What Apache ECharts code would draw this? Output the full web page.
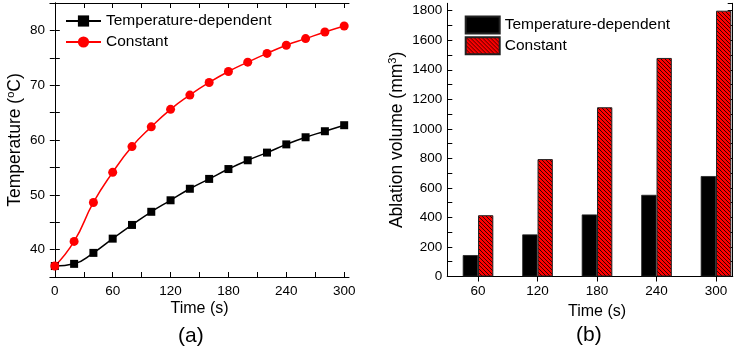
<!DOCTYPE html>
<html>
<head>
<meta charset="utf-8">
<script src="https://cdn.jsdelivr.net/npm/echarts@6/dist/echarts.min.js"></script>
<style>
html,body{margin:0;padding:0;background:#fff;}
#a{position:absolute;left:0;top:0;width:374px;height:350px;}
#b{position:absolute;left:374px;top:0;width:374px;height:350px;}
</style>
</head>
<body>
<div id="a"></div>
<div id="b"></div>
<script>
// ---- data (a) ----
const timeA = [0,20,40,60,80,100,120,140,160,180,200,220,240,260,280,300];
const tempDependent = [37.0,37.4,39.4,42.0,44.5,46.9,49.0,51.1,52.9,54.7,56.3,57.7,59.2,60.5,61.6,62.7];
const tempConstant  = [37.0,41.5,48.6,54.1,58.8,62.4,65.6,68.2,70.5,72.5,74.2,75.8,77.3,78.5,79.7,80.8];
const xTicksA = [0,60,120,180,240,300];
const xMinorA = [0,30,60,90,120,150,180,210,240,270,300];
// ---- data (b) ----
const timeB = [60,120,180,240,300];
const volDependent = [145,285,420,553,680];
const volConstant  = [415,795,1146,1480,1800];
const names = ['Temperature-dependent','Constant'];

const FONT = 'Liberation Sans, Arial, sans-serif';
const pair = (xs, ys) => xs.map((x,i)=>[x, ys[i]]);

function hatch(){
  const c = document.createElement('canvas');
  c.width = 4; c.height = 4;
  const g = c.getContext('2d');
  g.fillStyle = '#ff0000'; g.fillRect(0,0,4,4);
  g.fillStyle = '#3a0000';
  for (let i=0;i<4;i++){ g.fillRect(i,i,1,1); }
  return c;
}
const hatchFill = {image: hatch(), repeat: 'repeat'};

const axisLineBlack = {show:true, lineStyle:{color:'#000', width:1}};

// ---------- chart (a) ----------
const chA = echarts.init(document.getElementById('a'), null, {renderer:'canvas'});
chA.setOption({
  animation:false,
  textStyle:{fontFamily:FONT},
  grid:{left:50, top:3, width:299, height:274, containLabel:false, outerBoundsMode:'none'},
  legend:{
    orient:'vertical', left:65, top:13, padding:0, itemWidth:35, itemHeight:14, itemGap:5,
    textStyle:{fontSize:15.5, color:'#000', fontFamily:FONT},
    data:names
  },
  xAxis:[{
    type:'value', min:-5, max:305,
    name:'Time (s)', nameLocation:'middle', nameGap:24, nameMoveOverlap:false,
    nameTextStyle:{fontSize:16, color:'#000', fontFamily:FONT},
    axisLine:axisLineBlack, splitLine:{show:false},
    axisTick:{show:true, inside:true, length:5, customValues:xMinorA, lineStyle:{color:'#000'}},
    axisLabel:{customValues:xTicksA, fontSize:13.5, color:'#000', margin:7, fontFamily:FONT}
  },{
    type:'value', min:-5, max:305, position:'top',
    axisLine:axisLineBlack, splitLine:{show:false},
    axisTick:{show:true, inside:true, length:5, customValues:xMinorA, lineStyle:{color:'#000'}},
    axisLabel:{show:false}
  }],
  yAxis:[{
    type:'value', min:35, max:85, interval:5,
    name:'Temperature ({sup|o}C)', nameLocation:'middle', nameGap:25, nameMoveOverlap:false,
    nameTextStyle:{fontSize:17.5, color:'#000', fontFamily:FONT,
      rich:{sup:{fontSize:11, color:'#000', fontFamily:FONT, padding:[0,0,9,0]}}},
    axisLine:axisLineBlack, splitLine:{show:false},
    axisTick:{show:true, inside:true, length:5, lineStyle:{color:'#000'}},
    axisLabel:{fontSize:13.5, color:'#000', margin:5, fontFamily:FONT, showMinLabel:false, showMaxLabel:false,
      formatter:v => (v%10===0 ? String(v) : '')}
  },{
    type:'value', min:35, max:85, interval:5, position:'right',
    axisLine:axisLineBlack, splitLine:{show:false},
    axisTick:{show:true, inside:true, length:5, lineStyle:{color:'#000'}},
    axisLabel:{show:false}
  }],
  series:[{
    name:names[0], type:'line', smooth:true, data:pair(timeA, tempDependent),
    symbol:'rect', symbolSize:8, itemStyle:{color:'#000'}, lineStyle:{color:'#000', width:1.5}
  },{
    name:names[1], type:'line', smooth:true, data:pair(timeA, tempConstant),
    symbol:'circle', symbolSize:9, itemStyle:{color:'#ff0000'}, lineStyle:{color:'#ff0000', width:1.5}
  }],
  graphic:[{type:'text', left:178, top:326, style:{text:'(a)', fontSize:21, fill:'#000', font:'21px Carlito, Lato, sans-serif'}}]
});

// ---------- chart (b) ----------
const chB = echarts.init(document.getElementById('b'), null, {renderer:'canvas'});
chB.setOption({
  animation:false,
  textStyle:{fontFamily:FONT},
  grid:{left:73.3, top:3.3, width:285.4, height:273.2, containLabel:false, outerBoundsMode:'none'},
  legend:{
    orient:'vertical', left:90.7, top:15.5, padding:0, itemWidth:34, itemHeight:17, itemGap:1.7,
    icon:'rect',
    textStyle:{fontSize:15.5, color:'#000', fontFamily:FONT},
    data:names
  },
  xAxis:[{
    type:'value', min:29, max:316.8,
    name:'Time (s)', nameLocation:'middle', nameGap:27, nameMoveOverlap:false,
    nameTextStyle:{fontSize:16, color:'#000', fontFamily:FONT, padding:[0,0,0,14]},
    axisLine:axisLineBlack, splitLine:{show:false},
    axisTick:{show:true, inside:false, length:5, customValues:timeB, lineStyle:{color:'#000'}},
    axisLabel:{customValues:timeB, fontSize:13.5, color:'#000', margin:8, fontFamily:FONT}
  },{
    type:'value', min:29, max:316.8, position:'top',
    axisLine:axisLineBlack, splitLine:{show:false},
    axisTick:{show:false}, axisLabel:{show:false}
  }],
  yAxis:[{
    type:'value', min:0, max:1850, interval:100,
    name:'Ablation volume (mm{sup|3})', nameLocation:'middle', nameGap:40, nameMoveOverlap:false,
    nameTextStyle:{fontSize:17.5, color:'#000', fontFamily:FONT,
      rich:{sup:{fontSize:11, color:'#000', fontFamily:FONT, padding:[0,0,9,0]}}},
    axisLine:axisLineBlack, splitLine:{show:false},
    axisTick:{show:true, inside:true, length:5, lineStyle:{color:'#000'}},
    axisLabel:{fontSize:13.5, color:'#000', margin:5, fontFamily:FONT, showMaxLabel:false,
      formatter:v => (v%200===0 ? String(v) : '')}
  },{
    type:'value', min:0, max:1850, interval:100, position:'right',
    axisLine:axisLineBlack, splitLine:{show:false},
    axisTick:{show:true, inside:true, length:5, lineStyle:{color:'#000'}},
    axisLabel:{show:false}
  }],
  series:[{
    name:names[0], type:'bar', data:pair(timeB, volDependent), barWidth:15.3, barGap:'0%',
    itemStyle:{color:'#000', borderColor:'#222', borderWidth:0.8}
  },{
    name:names[1], type:'bar', data:pair(timeB, volConstant), barWidth:15.3, barGap:'0%',
    itemStyle:{color:hatchFill, borderColor:'#222', borderWidth:1}
  }],
  graphic:[{type:'text', left:202, top:325, style:{text:'(b)', fontSize:21, fill:'#000', font:'21px Carlito, Lato, sans-serif'}}]
});
</script>
</body>
</html>
